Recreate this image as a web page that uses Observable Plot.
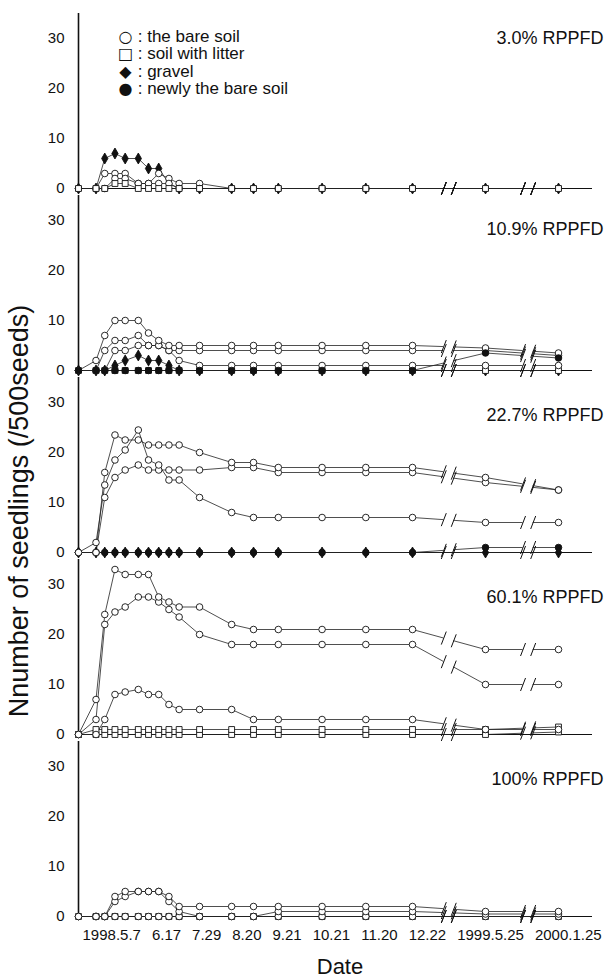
<!DOCTYPE html>
<html><head><meta charset="utf-8">
<script src="https://cdn.jsdelivr.net/npm/d3@7"></script>
<script src="https://cdn.jsdelivr.net/npm/@observablehq/plot@0.6"></script>
<style>
body{margin:0;background:#fff;}
#wrap{position:relative;width:606px;height:980px;}
.legend{position:absolute;left:118px;top:28px;font-family:"Liberation Sans",Arial,sans-serif;font-size:17px;line-height:17.4px;color:#111;white-space:nowrap;}
.legend .sym{display:inline-block;width:15px;text-align:center;font-family:"DejaVu Sans",sans-serif;font-size:16px;}
</style></head><body><div id="wrap"></div>
<script>
// survey dates (1998.5.7 sowing ... 2000.1.25)
const dates = ["1998-05-07","1998-05-19","1998-05-25","1998-06-01","1998-06-08","1998-06-17","1998-06-24","1998-07-01","1998-07-08","1998-07-15","1998-07-29","1998-08-20","1998-09-04","1998-09-21","1998-10-21","1998-11-20","1998-12-22","1999-05-25","2000-01-25"];
const panels = ["3.0% RPPFD","10.9% RPPFD","22.7% RPPFD","60.1% RPPFD","100% RPPFD"];
const tickDates = ["1998-05-07","1998-06-17","1998-07-29","1998-08-20","1998-09-21","1998-10-21","1998-11-20","1998-12-22","1999-05-25","2000-01-25"];
const tickLabels = ["1998.5.7","6.17","7.29","8.20","9.21","10.21","11.20","12.22","1999.5.25","2000.1.25"];
const axisBreaks = [["1999-02-26","1999-03-19",16,17],["1999-09-28","1999-11-01",17,18]];
const yTicks = [0,10,20,30];

// 3.0% RPPFD
const p1_gravel = [0,0,6,7,6,6,4,4,1,0,0,0,0,0,0,0,0,0,0];
const p1_bareA  = [0,0,3,3,3,1,1,3,2,1,1,0,0,0,0,0,0,0,0];
const p1_bareB  = [0,0,0,2,2,1,1,1,1,0,0,0,0,0,0,0,0,0,0];
const p1_litter = [0,0,0,1,1,0,0,0,0,0,0,0,0,0,0,0,0,0,0];
// 10.9% RPPFD
const p2_newly  = [0,0,0,0,0,0,0,0,0,0,0,0,0,0,0,0,0,3.5,2.5];
const p2_gravel = [0,0,0,1,2,3,2,2,1,0,0,0,0,0,0,0,0,0,0];
const p2_bareA  = [0,2,7,10,10,10,7.5,6,5,5,5,5,5,5,5,5,5,4.5,3.5];
const p2_bareB  = [0,0,4,6,6,7,5,5,4,4,4,4,4,4,4,4,4,4,3];
const p2_bareC  = [0,0,0,4,4,5,5,5,4,2,1,1,1,1,1,1,1,1,1];
const p2_litter = [0,0,0,0,0,0,0,0,0,0,0,0,0,0,0,0,0,0,0];
// 22.7% RPPFD
const p3_newly  = [0,0,0,0,0,0,0,0,0,0,0,0,0,0,0,0,0,1,1];
const p3_gravel = [0,0,0,0,0,0,0,0,0,0,0,0,0,0,0,0,0,0,0];
const p3_bareA  = [0,0,16,23.5,22.5,22.5,21.5,21.5,21.5,21.5,20,18,18,17,17,17,17,15,12.5];
const p3_bareB  = [0,2,13.5,18.5,20.5,24.5,18.5,17.5,14.5,14.5,11,8,7,7,7,7,7,6,6];
const p3_bareC  = [0,0,11,15,16.5,17.5,16.5,16.5,16.5,16.5,16.5,17,17,16,16,16,16,14,12.5];
// 60.1% RPPFD
const p4_bareA  = [0,7,24,33,32,32,32,27.5,26.5,25.5,25.5,22,21,21,21,21,21,17,17];
const p4_bareB  = [0,3,22,24.5,25.5,27.5,27.5,26.5,25,23.5,20,18,18,18,18,18,18,10,10];
const p4_bareC  = [0,0,3,8,8.5,9,8,8,6,5,5,5,3,3,3,3,3,1,1];
const p4_litterA= [0,1,1,1,1,1,1,1,1,1,1,1,1,1,1,1,1,1,1.5];
const p4_litterB= [0,0,0,0,0,0,0,0,0,0,0,0,0,0,0,0,0,0,0.5];
// 100% RPPFD
const p5_bareA  = [0,0,0,4,5,5,5,5,4,2,2,2,2,2,2,2,2,1,1];
const p5_bareB  = [0,0,0,3,4,5,5,5,3,1,0,0,0,1,1,1,1,0.5,0.5];
const p5_bareC  = [0,0,0,0,0,0,0,0,0,0,0,0,0,0,0,0,0,0,0];
const p5_litter = [0,0,0,0,0,0,0,0,0,0,0,0,0,0,0,0,0,0,0];

const kinds = {bare:["circle",false], litter:["square",false], gravel:["diamond",true], newly:["circle",true]};
const panelSeries = [
  [["gravel",p1_gravel],["bare",p1_bareA],["bare",p1_bareB],["litter",p1_litter]],
  [["gravel",p2_gravel],["litter",p2_litter],["bare",p2_bareC],["bare",p2_bareB],["bare",p2_bareA],["newly",p2_newly]],
  [["newly",p3_newly],["gravel",p3_gravel],["bare",p3_bareC],["bare",p3_bareB],["bare",p3_bareA]],
  [["litter",p4_litterB],["litter",p4_litterA],["bare",p4_bareC],["bare",p4_bareB],["bare",p4_bareA]],
  [["litter",p5_litter],["bare",p5_bareC],["bare",p5_bareB],["bare",p5_bareA]]
];

const rows = [];
panelSeries.forEach((list, pi) => list.forEach(([kind, vals], si) => vals.forEach((v, i) => {
  rows.push({panel: panels[pi], key: pi + "-" + si, kind, symbol: kinds[kind][0], fill: kinds[kind][1] ? "#111" : "white", date: new Date(dates[i]), value: v});
})));

const xDomain = [dates[0], dates[16], dates[17], dates[18]].map(d => new Date(d));
const xRange = [78, 412, 485, 558];
const xs = d3.scaleUtc(xDomain, xRange);

// axis-break slashes on every line, interpolated in screen space
const slashes = [];
panelSeries.forEach((list, pi) => list.forEach(([kind, vals]) => axisBreaks.forEach(([a, b, i0, i1]) => {
  const p0 = xs(new Date(dates[i0])), p1 = xs(new Date(dates[i1]));
  [a, b].forEach(d => {
    const p = xs(new Date(d));
    const v = vals[i0] + (vals[i1] - vals[i0]) * (p - p0) / (p1 - p0);
    slashes.push({panel: panels[pi], date: new Date(d), value: v});
  });
})));
const breakRects = axisBreaks.map(([a, b]) => ({x1: new Date(a), x2: new Date(b)}));
const slashSymbol = {draw(ctx) { ctx.moveTo(-2.5, 6.5); ctx.lineTo(2.5, -6.5); }};

const sans = `"Liberation Sans",Arial,sans-serif`;
// date labels: spread left to right so that they never touch (as in the original)
const tickFont = 15;
const ctx = document.createElement("canvas").getContext("2d");
ctx.font = `${tickFont}px "Liberation Sans", Arial, sans-serif`;
let prevRight = -Infinity;
const tickMarks = tickLabels.map((t, i) => {
  const w = ctx.measureText(t).width;
  const px = xs(new Date(tickDates[i]));
  let left = i === 0 ? px + 4 : px - w / 2;
  if (left < prevRight + 11) left = prevRight + 11;
  if (left + w > 603) left = 603 - w;
  prevRight = left + w;
  return Plot.text([{date: new Date(tickDates[i]), label: t}], {
    x: "date", text: "label", fy: () => panels[4], frameAnchor: "bottom",
    dy: 23, dx: left + w / 2 - px, fontSize: tickFont, fontFamily: sans, fill: "#111"
  });
});

const labelStyle = {frameAnchor: "top-right", dx: 11, fontSize: 18, fontFamily: sans, fill: "#111", ariaLabel: "plabel"};
const chart = Plot.plot({
  width: 606, height: 980,
  marginTop: 13, marginBottom: 64, marginLeft: 78, marginRight: 14,
  x: {type: "utc", domain: xDomain, range: xRange, axis: null},
  y: {domain: [0, 35], axis: null},
  fy: {domain: panels, axis: null, paddingInner: 0.0385, paddingOuter: 0},
  style: {fontFamily: sans, background: "white"},
  marks: [
    Plot.ruleY([0], {stroke: "#111", strokeWidth: 1.2}),
    Plot.line(rows, {x: "date", y: "value", z: "key", fy: "panel", stroke: "#222", strokeWidth: 0.8}),
    Plot.rect(breakRects, {x1: "x1", x2: "x2", fill: "white"}),
    Plot.dot(slashes, {x: "date", y: "value", fy: "panel", symbol: slashSymbol, stroke: "#111", strokeWidth: 1, fill: "none"}),
    Plot.ruleX([xDomain[0]], {stroke: "#111", strokeWidth: 1.6}),
    Plot.axisY({ticks: yTicks, tickSize: 0, tickPadding: 14, label: null, fontSize: 15, fontFamily: sans, fill: "#111", ariaLabel: "ytick"}),
    Plot.dot(rows, {x: "date", y: "value", fy: "panel", symbol: "symbol", fill: "fill", stroke: "#111", strokeWidth: 0.9, r: 3.3}),
    Plot.text(panels.slice(0, 1), {fy: d => d, text: d => d, dy: 18, ...labelStyle}),
    Plot.text(panels.slice(1, 2), {fy: d => d, text: d => d, dy: 27, ...labelStyle}),
    Plot.text(panels.slice(2), {fy: d => d, text: d => d, dy: 31, ...labelStyle}),
    ...tickMarks
  ]
});

const wrap = document.getElementById("wrap");
wrap.appendChild(chart);
const svg = d3.select(chart.tagName.toLowerCase() === "svg" ? chart : chart.querySelector("svg"));
// condensed look of the original lettering (end-anchored texts only)
function squeeze(label, k) {
  svg.selectAll(`g[aria-label="${label}"] text`).each(function() {
    const len = this.getComputedTextLength();
    if (len > 0) { this.setAttribute("textLength", len * k); this.setAttribute("lengthAdjust", "spacingAndGlyphs"); }
  });
}
squeeze("plabel", 0.74);
squeeze("ytick", 0.85);

svg.append("text").attr("transform", "translate(28,511) rotate(-90)").attr("text-anchor", "middle")
  .attr("font-family", sans).attr("font-size", 27).attr("fill", "#111")
  .text("Nnumber of seedlings (/500seeds)");
svg.append("text").attr("x", 340).attr("y", 974).attr("text-anchor", "middle")
  .attr("font-family", sans).attr("font-size", 22).attr("fill", "#111")
  .text("Date");

const legendItems = [["○","the bare soil"],["□","soil with litter"],["◆","gravel"],["●","newly the bare soil"]];
const leg = document.createElement("div");
leg.className = "legend";
leg.innerHTML = legendItems.map(([s, t]) => `<div><span class="sym">${s}</span> : ${t}</div>`).join("");
wrap.appendChild(leg);
</script></body></html>
